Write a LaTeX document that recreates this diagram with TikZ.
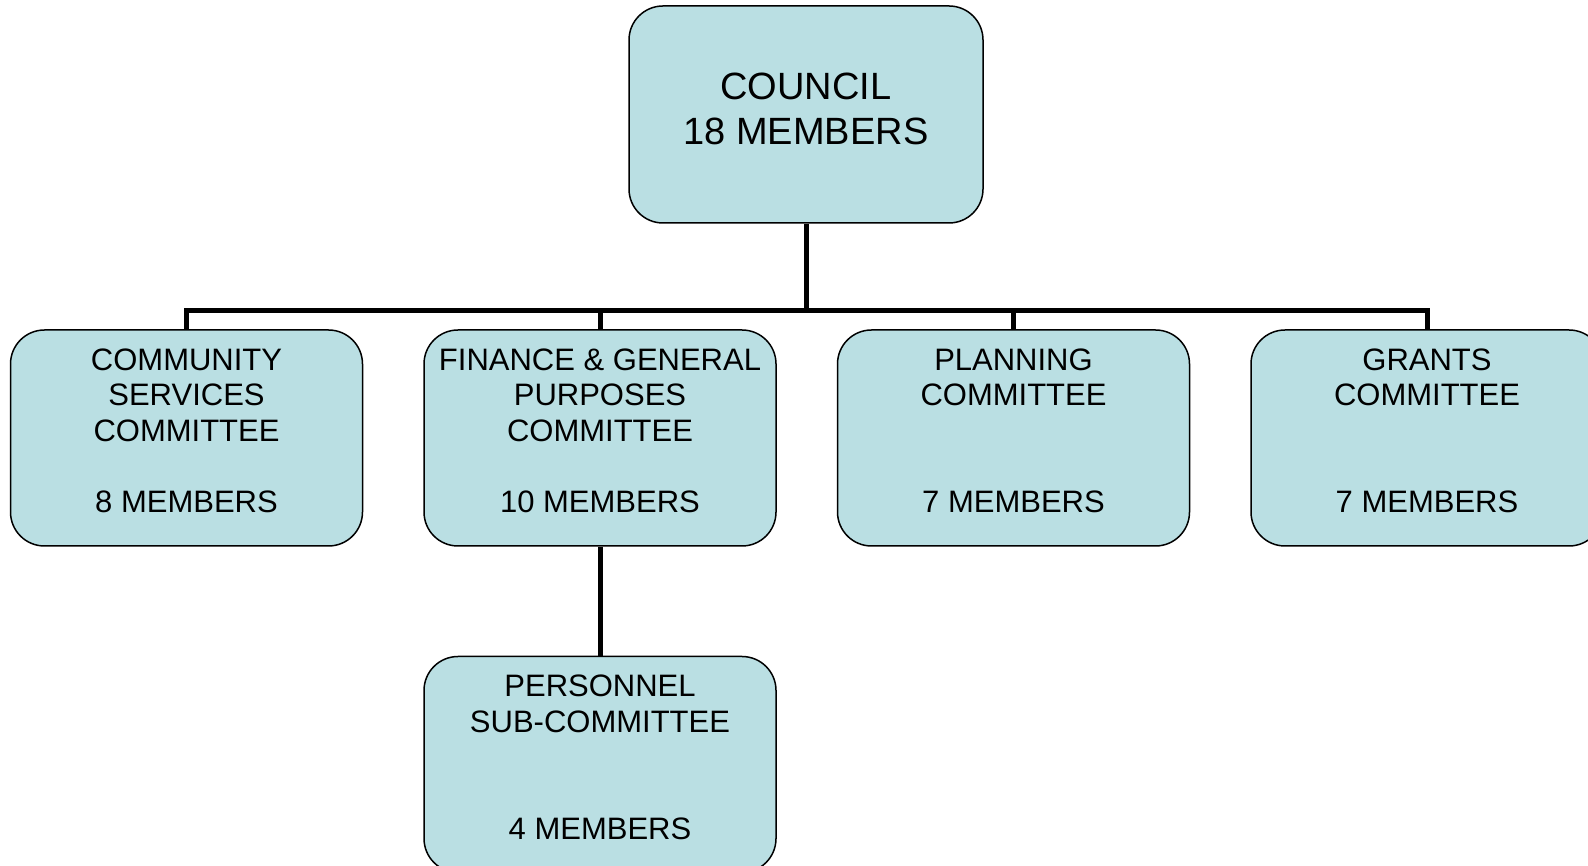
\documentclass[tikz,border=0pt]{standalone}
\usepackage{xcolor}
\usepackage{fontspec}
\setmainfont{Liberation Sans}
\usepackage{tikz}
\usetikzlibrary{positioning}
\definecolor{boxblue}{RGB}{186,223,227}
\tikzset{link/.style = {line width=2.5pt}}

\begin{document}
\begin{tikzpicture}[x=0.5pt,y=0.5pt,node distance=30pt,
    box/.style={draw,line width=0.75pt,fill=boxblue,rounded corners=17pt,align=center},
    main node/.style={box,minimum width=176pt,minimum height=108pt,
        font=\fontsize{15.5}{17.8}\selectfont,execute at end node={\rule[-7.5pt]{0pt}{0pt}}},
    top node/.style={box,minimum width=177pt,minimum height=108.5pt,
        font=\fontsize{19}{22.5}\selectfont,execute at end node={\rule[-5.5pt]{0pt}{0pt}}}]
    \useasboundingbox (0,0) rectangle (1588,866);

    \node[top node] (council) at (806,751.5) {COUNCIL\\18 MEMBERS};
    \node[main node] (finance) at (600,428) {FINANCE \& GENERAL\\PURPOSES\\COMMITTEE\\ \\10 MEMBERS};
    \node[main node] (community) [left=of finance] {COMMUNITY\\SERVICES\\COMMITTEE\\ \\8 MEMBERS};
    \node[main node] (planning) [right=of finance] {PLANNING\\COMMITTEE\\ \\ \\7 MEMBERS};
    \node[main node] (grants) [right=of planning] {GRANTS\\COMMITTEE\\ \\ \\7 MEMBERS};
    \node[main node] (personnel) [below=54.5pt of finance] {PERSONNEL\\SUB-COMMITTEE\\ \\ \\4 MEMBERS};

    \draw[link] (council.south) -- ++(0,-87) coordinate (bus);
    \draw[link] (community.north) |- (bus) -| (grants.north);
    \draw[link] (finance.north) -- (finance.north |- bus);
    \draw[link] (planning.north) -- (planning.north |- bus);
    \draw[link] (finance.south) -- (personnel.north);

\end{tikzpicture}
\end{document}
